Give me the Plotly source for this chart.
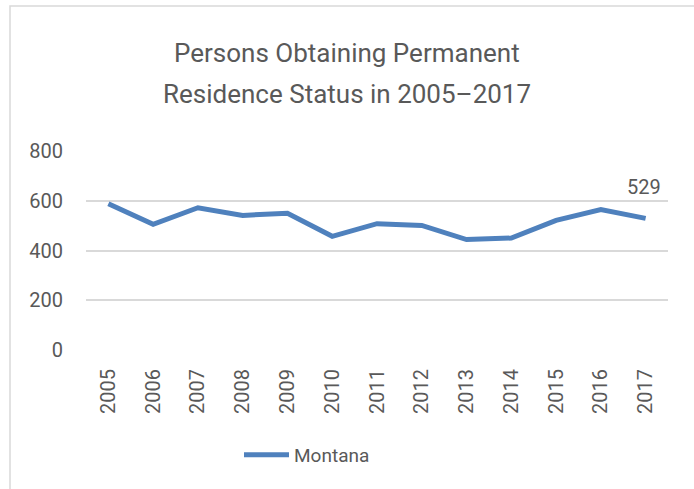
import plotly.graph_objects as go

years = ["2005", "2006", "2007", "2008", "2009", "2010", "2011",
         "2012", "2013", "2014", "2015", "2016", "2017"]
montana = [588, 505, 572, 541, 550, 457, 508, 501, 444, 450, 521, 565, 529]
series_name = "Montana"
title_lines = ["Persons Obtaining Permanent", "Residence Status in 2005\u20132017"]
y_ticks = [0, 200, 400, 600, 800]

W, H = 694, 489
L, R, T, B = 86, 668, 151, 350  # plot area in pixels


def px(x):
    return (x - L) / (R - L)


def py(y):
    return (B - y) / (B - T)


FONT = "Roboto"
GREY = "#595959"
BLUE = "#4f81bd"

fig = go.Figure()
fig.add_trace(go.Scatter(
    x=years, y=montana, mode="lines", name=series_name,
    line=dict(color=BLUE, width=5),
))

fig.add_annotation(
    x=len(years) - 1, y=montana[-1], xref="x", yref="y",
    text=str(montana[-1]), showarrow=False, yshift=31, xshift=-2,
    font=dict(family=FONT, size=20, color=GREY),
)

for i, (line, yc) in enumerate(zip(title_lines, [53, 94])):
    fig.add_annotation(
        x=px(347), y=py(yc), xref="paper", yref="paper",
        text=line, showarrow=False, xanchor="center", yanchor="middle",
        font=dict(family=FONT, size=26, color=GREY),
    )

fig.add_shape(
    type="rect", xref="paper", yref="paper",
    x0=px(10), y0=py(500), x1=px(710), y1=py(6),
    line=dict(color="#d9d9d9", width=1.5), layer="below",
)

fig.update_layout(
    width=W, height=H,
    margin=dict(l=L, r=W - R, t=T, b=H - B, autoexpand=False),
    paper_bgcolor="white", plot_bgcolor="white",
    showlegend=True,
    legend=dict(
        orientation="h", x=px(307), y=py(455), xanchor="center", yanchor="middle",
        font=dict(family=FONT, size=19, color=GREY),
        itemwidth=45, bgcolor="rgba(0,0,0,0)",
    ),
    xaxis=dict(
        type="category", tickangle=-90, showgrid=False, showline=False,
        zeroline=False, ticks="", ticklabelstandoff=14,
        range=[-0.5, len(years) - 0.5],
        tickfont=dict(family=FONT, size=20, color=GREY),
    ),
    yaxis=dict(
        range=[0, 800], tickvals=y_ticks, showgrid=True, gridcolor="#d9d9d9",
        gridwidth=1.5, zeroline=False, showline=False, ticks="",
        ticklabelstandoff=22,
        tickfont=dict(family=FONT, size=20, color=GREY),
    ),
)

fig.write_html(
    "out.html",
    config={"displayModeBar": False},
    post_script="document.body.style.margin='0';document.body.style.overflow='hidden';",
)
